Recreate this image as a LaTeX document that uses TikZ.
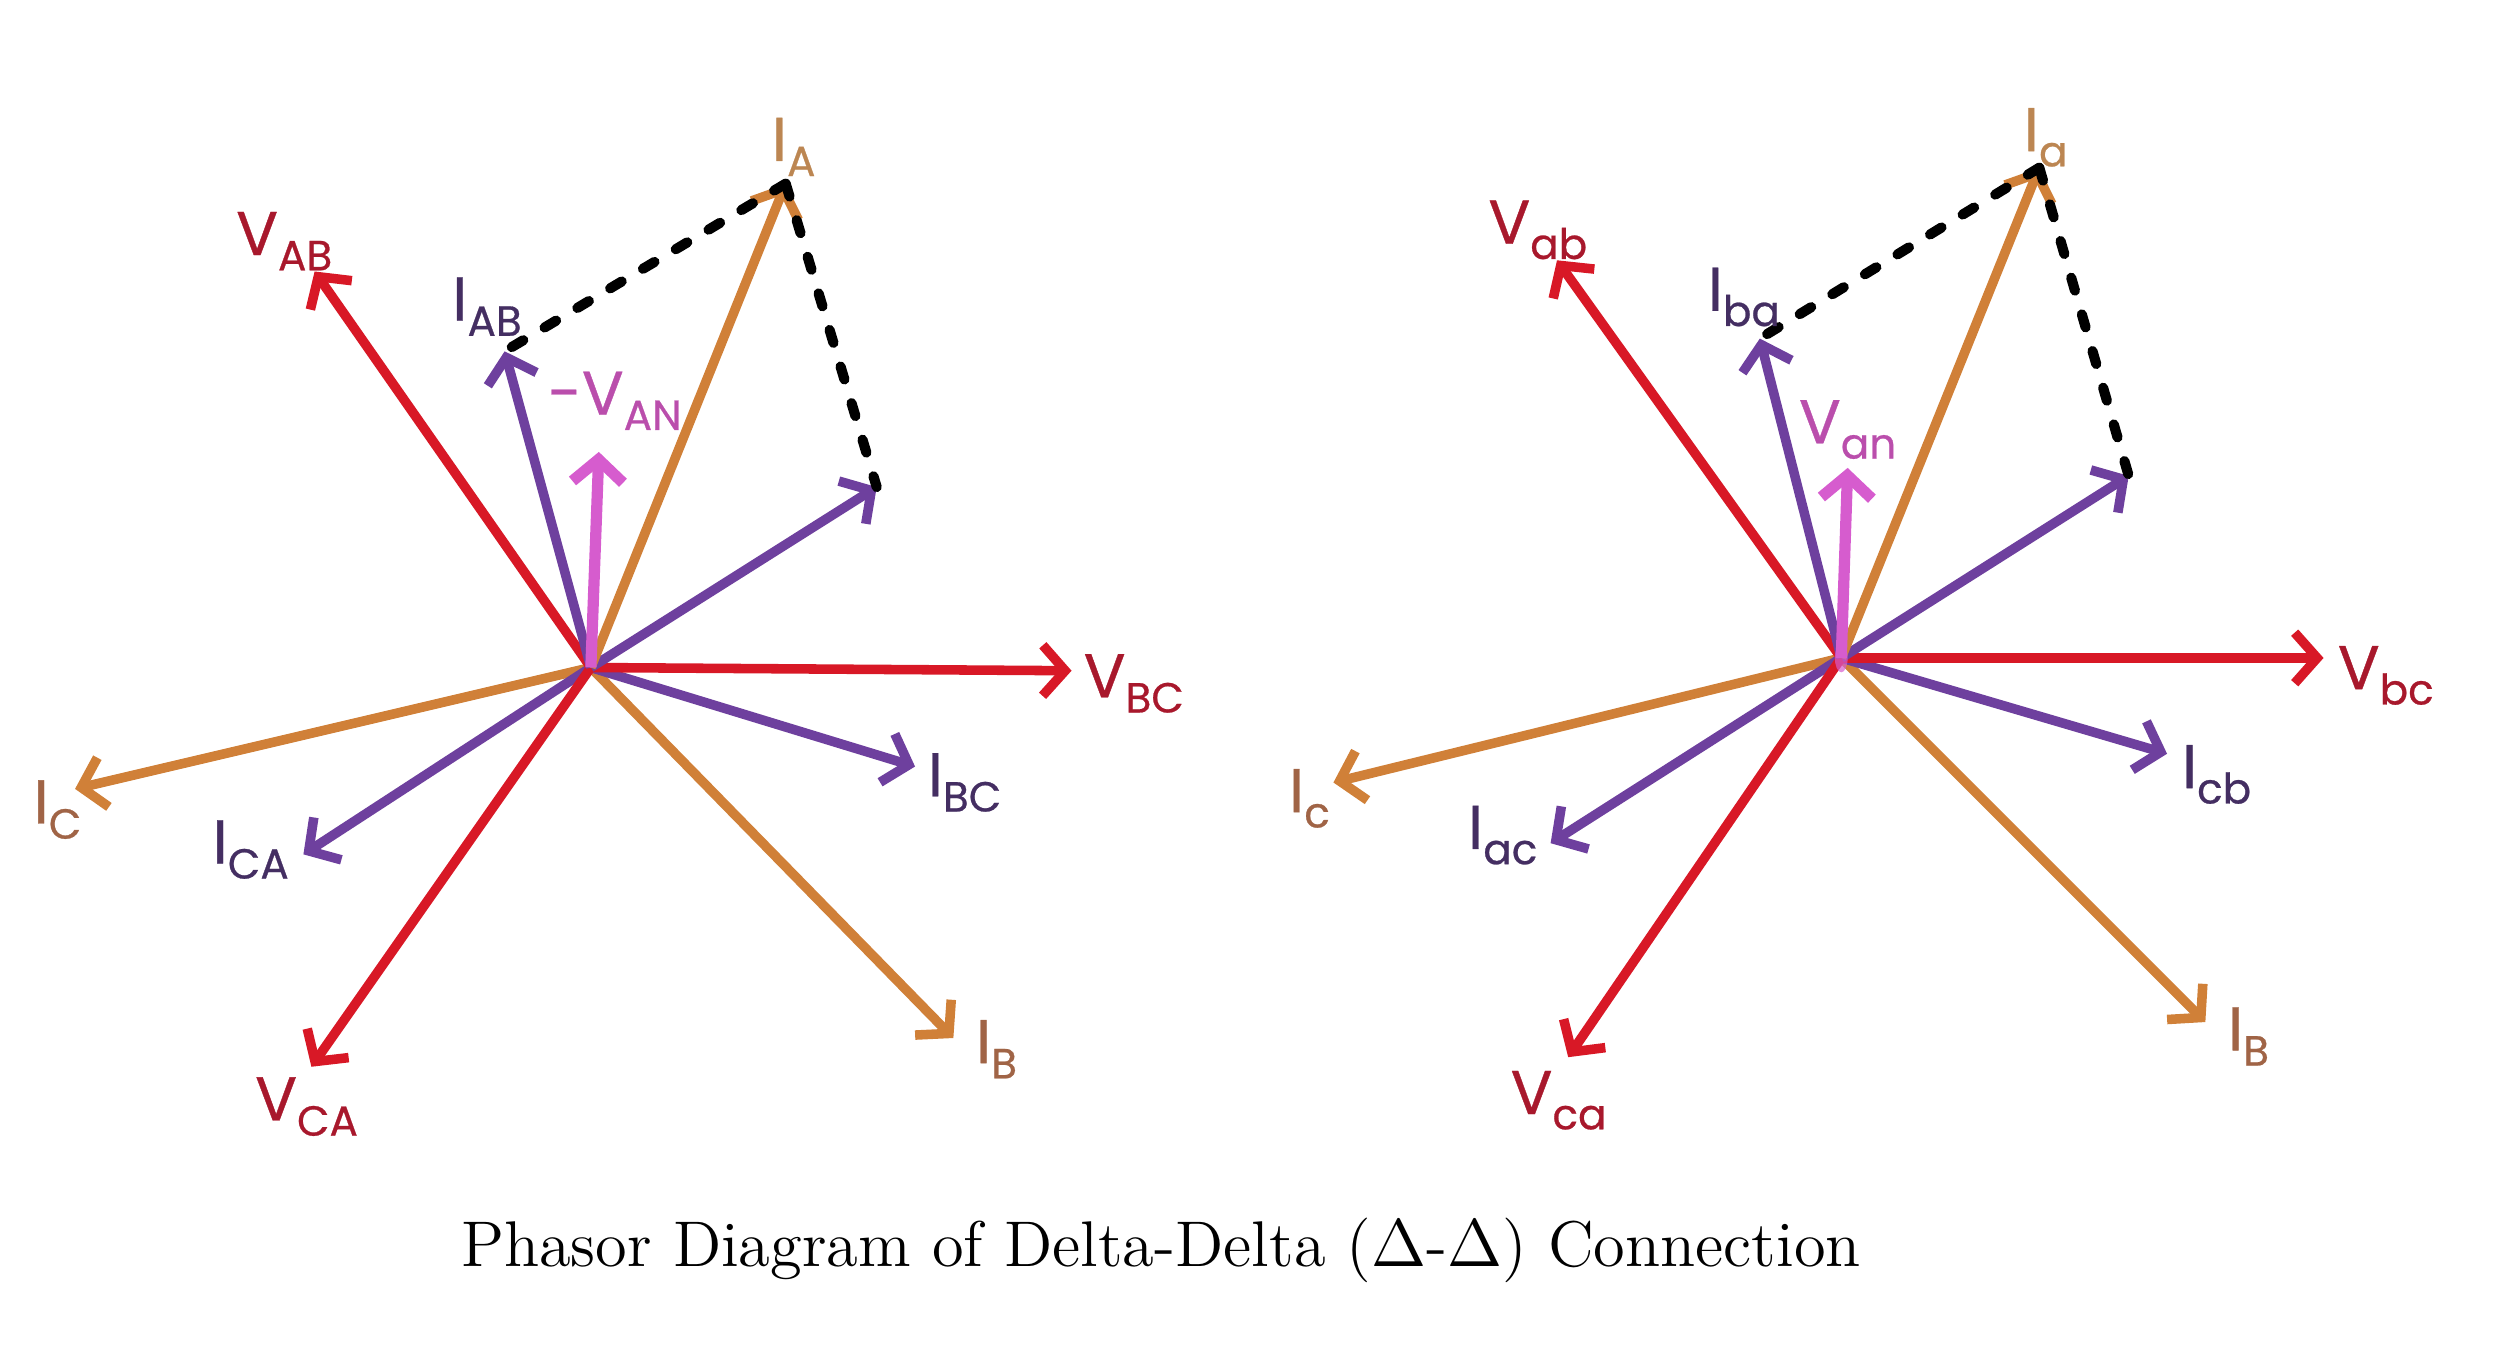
\documentclass[tikz,border=0pt]{standalone}
\usepackage{fontspec}
\newfontfamily\lblfont{Poppins}[FakeBold=0.6]
\usetikzlibrary{arrows.meta}
\definecolor{phred}{RGB}{216,24,38}
\definecolor{phorange}{RGB}{208,128,56}
\definecolor{phpurple}{RGB}{110,64,158}
\definecolor{phpink}{RGB}{214,92,206}
\definecolor{txred}{RGB}{168,24,44}
\definecolor{txpurple}{RGB}{68,46,98}
\definecolor{txbrown}{RGB}{160,100,70}
\definecolor{txtan}{RGB}{188,134,82}
\definecolor{txpink}{RGB}{186,78,172}
\tikzset{
  phasor/.style={line width=1.7pt, -{Straight Barb[length=4pt,width=9pt]}},
  phlabel/.style={font=\lblfont\fontsize{11}{13}\selectfont, inner sep=1pt},
  dashline/.style={black, line width=1.8pt, dash pattern=on 2.4pt off 4.4pt, line cap=round}
}
\newcommand\Sub[2]{#1\raisebox{-0.45ex}{\fontsize{7.5}{8}\selectfont #2}}

\begin{document}
\begin{tikzpicture}[x=0.01cm,y=-0.01cm]
\useasboundingbox (0,0) rectangle (1568,854);

% left diagram (capital subscripts)
\coordinate (L0) at (370,418);
\coordinate (LVab) at (197,170);
\coordinate (LIab) at (316,220);
\coordinate (LVan) at (375,283);
\coordinate (LIa) at (492,115);
\coordinate (LIp) at (549,305);
\coordinate (LVbc) at (671,420);
\coordinate (LIbc) at (573,480);
\coordinate (LIb) at (597,650);
\coordinate (LVca) at (195,668);
\coordinate (LIca) at (190,535);
\coordinate (LIc) at (47,494);

\draw[phasor,phorange] (L0) -- (LIc);
\draw[phasor,phorange] (L0) -- (LIb);
\draw[phasor,phpurple] (L0) -- (LIca);
\draw[phasor,phpurple] (L0) -- (LIbc);
\draw[phasor,phred] (L0) -- (LVca);
\draw[phasor,phred] (L0) -- (LVbc);
\draw[phasor,phred] (L0) -- (LVab);
\draw[phasor,phpurple] (L0) -- (LIab);
\draw[phasor,phpurple] (L0) -- (LIp);
\draw[phasor,phorange] (L0) -- (LIa);
\draw[phasor,phpink,line width=2pt] (L0) -- (LVan);
\draw[dashline] (LIa) -- (LIab);
\draw[dashline] (LIa) -- (LIp);

\node[phlabel,text=txred] (LVabLbl) at (178,151) {\Sub{V}{AB}};
\node[phlabel,text=txpurple] (LIabLbl) at (305,192) {\Sub{I}{AB}};
\node[phlabel,text=txpink] (LVanLbl) at (385,251) {-\Sub{V}{AN}};
\node[phlabel,text=txtan] (LIaLbl) at (497,92) {\Sub{I}{A}};
\node[phlabel,text=txred] (LVbcLbl) at (710,428) {\Sub{V}{BC}};
\node[phlabel,text=txpurple] (LIbcLbl) at (604,490) {\Sub{I}{BC}};
\node[phlabel,text=txbrown] (LIbLbl) at (624,657) {\Sub{I}{B}};
\node[phlabel,text=txred] (LVcaLbl) at (192,693) {\Sub{V}{CA}};
\node[phlabel,text=txpurple] (LIcaLbl) at (157,532) {\Sub{I}{CA}};
\node[phlabel,text=txbrown] (LIcLbl) at (36,507) {\Sub{I}{C}};

% right diagram (small subscripts)
\coordinate (R0) at (1153,412);
\coordinate (RVab) at (975,163);
\coordinate (RIba) at (1102,212);
\coordinate (RVan) at (1157,293);
\coordinate (RIa) at (1277,105);
\coordinate (RIp) at (1333,298);
\coordinate (RVbc) at (1455,412);
\coordinate (RIcb) at (1357,472);
\coordinate (RIb) at (1381,640);
\coordinate (RVca) at (982,662);
\coordinate (RIac) at (971,528);
\coordinate (RIc) at (835,490);

\draw[phasor,phorange] (R0) -- (RIc);
\draw[phasor,phorange] (R0) -- (RIb);
\draw[phasor,phpurple] (R0) -- (RIac);
\draw[phasor,phpurple] (R0) -- (RIcb);
\draw[phasor,phred] (R0) -- (RVca);
\draw[phasor,phred] (R0) -- (RVbc);
\draw[phasor,phred] (R0) -- (RVab);
\draw[phasor,phpurple] (R0) -- (RIba);
\draw[phasor,phpurple] (R0) -- (RIp);
\draw[phasor,phorange] (R0) -- (RIa);
\draw[phasor,phpink,line width=2pt] (R0) -- (RVan);
\fill[phpink,opacity=0.7] (R0) ellipse (4 and 9);
\draw[dashline] (RIa) -- (RIba);
\draw[dashline] (RIa) -- (RIp);

\node[phlabel,text=txred] (RVabLbl) at (963,144) {\Sub{V}{ab}};
\node[phlabel,text=txpurple] (RIbaLbl) at (1092,186) {\Sub{I}{ba}};
\node[phlabel,text=txpink] (RVanLbl) at (1157,269) {\Sub{V}{an}};
\node[phlabel,text=txtan] (RIaLbl) at (1281,86) {\Sub{I}{a}};
\node[phlabel,text=txred] (RVbcLbl) at (1494,423) {\Sub{V}{bc}};
\node[phlabel,text=txpurple] (RIcbLbl) at (1388,485) {\Sub{I}{cb}};
\node[phlabel,text=txbrown] (RIbLbl) at (1408,649) {\Sub{I}{B}};
\node[phlabel,text=txred] (RVcaLbl) at (976,689) {\Sub{V}{ca}};
\node[phlabel,text=txpurple] (RIacLbl) at (941,523) {\Sub{I}{ac}};
\node[phlabel,text=txbrown] (RIcLbl) at (820,500) {\Sub{I}{c}};

% caption
\node[font=\rmfamily\fontsize{11.5}{13}\selectfont] (caption) at (727,783)
  {Phasor Diagram of Delta-Delta ($\Delta$-$\Delta$) Connection};
\end{tikzpicture}
\end{document}
